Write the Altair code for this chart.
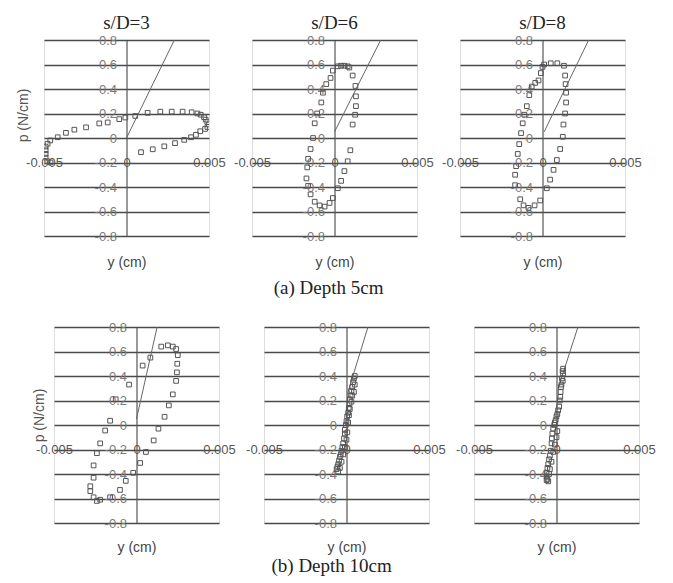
import altair as alt
import pandas as pd

# ---------------- data ----------------
col_titles = ["s/D=3", "s/D=6", "s/D=8"]
row_titles = ["(a) Depth  5cm", "(b) Depth  10cm"]

x_ticks = [-0.005, 0, 0.005]
x_tick_labels = ["-0.005", "0", "0.005"]
y_ticks = [0.8, 0.6, 0.4, 0.2, 0, -0.2, -0.4, -0.6, -0.8]
y_tick_labels = ["0.8", "0.6", "0.4", "0.2", "0", "-0.2", "-0.4", "-0.6", "-0.8"]

# depth 5cm, s/D=3
a3_y = [-0.00007, 0.00053, 0.00128, 0.00205, 0.00274, 0.0034, 0.00395, 0.0043, 0.0045, 0.0047,
        0.0048, 0.0049, 0.005, 0.0049, 0.00476, 0.00447, 0.00421, 0.00391, 0.0035, 0.00294,
        0.00229, 0.00159, 0.00088, -0.00044, -0.00114, -0.00165, -0.00245, -0.00316, -0.00367,
        -0.00417, -0.00462, -0.00478, -0.0049, -0.0049, -0.0049, -0.0049, -0.0048, -0.0046]
a3_p = [0.167, 0.18, 0.205, 0.215, 0.215, 0.215, 0.21, 0.2, 0.19, 0.17,
        0.15, 0.13, 0.11, 0.09, 0.074, 0.055, 0.026, 0.006, -0.015, -0.042,
        -0.068, -0.092, -0.116, 0.154, 0.127, 0.119, 0.087, 0.068, 0.042,
        0.006, -0.02, -0.047, -0.07, -0.1, -0.13, -0.16, -0.19, -0.2]
a3_line_y = [0.0, 0.0029]
a3_line_p = [0.0, 0.8]

# depth 5cm, s/D=6
a6_y = [0.0002, 0.0004, 0.0006, 0.0008, 0.0009, 0.0011, 0.00127, 0.0013, 0.0013, 0.00125,
        0.0011, 0.00096, 0.0008, 0.0006, 0.0004, 0.0002, -0.0001, -0.0003, -0.0006, -0.0009,
        -0.0012, -0.00145, -0.0016, -0.0017, -0.00165, -0.0016, -0.00145, -0.0013, -0.0012,
        -0.00105, -0.0008, -0.0007, -0.0005, -0.00024, -0.0001]
a6_p = [0.585, 0.59, 0.59, 0.585, 0.575, 0.51, 0.425, 0.34, 0.26, 0.19,
        0.11, -0.10, -0.19, -0.27, -0.35, -0.41, -0.49, -0.53, -0.56, -0.55,
        -0.52, -0.46, -0.39, -0.33, -0.24, -0.17, -0.09, 0.0, 0.12,
        0.2, 0.29, 0.37, 0.44, 0.49, 0.55]
a6_line_y = [0.0, 0.0028]
a6_line_p = [0.05, 0.8]

# depth 5cm, s/D=8
a8_y = [0.0001, 0.0005, 0.0009, 0.0013, 0.00137, 0.0014, 0.00143, 0.00143, 0.00137, 0.00127,
        0.00123, 0.00107, 0.00087, 0.00067, 0.00046, 0.00026, -0.00014, -0.00048, -0.00085,
        -0.00115, -0.00135, -0.00166, -0.00166, -0.0016, -0.0015, -0.00141, -0.0013, -0.0012,
        -0.0011, -0.00095, -0.0008, -0.00065, -0.00044, -0.00024, -0.0001, 0.0]
a8_p = [0.6, 0.61, 0.61, 0.59, 0.51, 0.44, 0.37, 0.29, 0.2, 0.11,
        0.01, -0.09, -0.18, -0.26, -0.34, -0.41, -0.51, -0.55, -0.57,
        -0.55, -0.5, -0.385, -0.3, -0.23, -0.13, -0.05, 0.04, 0.12,
        0.19, 0.26, 0.35, 0.42, 0.45, 0.47, 0.53, 0.58]
a8_line_y = [0.0001, 0.0028]
a8_line_p = [0.05, 0.8]

# depth 10cm, s/D=3
b3_y = [0.00037, 0.00084, 0.0015, 0.0019, 0.0022, 0.0024, 0.0025, 0.00247, 0.00245, 0.0024,
        0.0022, 0.00196, 0.0017, 0.00133, 0.00104, 0.00057, 0.00022, -0.0002, -0.00065,
        -0.001, -0.0016, -0.0022, -0.0024, -0.0026, -0.0028, -0.0028, -0.0026, -0.0026,
        -0.0024, -0.0022, -0.0019, -0.0016, -0.00126, -0.00045]
b3_p = [0.485, 0.55, 0.64, 0.65, 0.64, 0.62, 0.57, 0.5, 0.43, 0.36,
        0.25, 0.16, 0.067, -0.03, -0.126, -0.22, -0.31, -0.39, -0.456,
        -0.53, -0.59, -0.61, -0.62, -0.59, -0.54, -0.5, -0.43, -0.33,
        -0.23, -0.15, -0.045, 0.035, 0.21, 0.33]
b3_line_y = [0.0, 0.00125]
b3_line_p = [0.05, 0.8]

# depth 10cm, s/D=6
b6_y = [0.0005, 0.00045, 0.0004, 0.0005, 0.00035, 0.0003, 0.00045, 0.00025, 0.0002, 0.00018,
        0.00014, 0.0001, 0.00004, 0.0, -0.00004, -0.0001, -0.0001, -0.00015, -0.0002, -0.00025,
        -0.0003, -0.00035, -0.0004, -0.00045, -0.0005, -0.00055, -0.0006, -0.0005, -0.0004,
        -0.0003, -0.0002, -0.0001, 0.0, 0.00005, 0.0001, 0.00015, 0.0002, 0.0003, 0.00035]
b6_p = [0.40, 0.38, 0.35, 0.33, 0.31, 0.28, 0.27, 0.24, 0.21, 0.17,
        0.14, 0.1, 0.07, 0.03, 0.0, -0.04, -0.07, -0.11, -0.15, -0.18,
        -0.21, -0.24, -0.26, -0.29, -0.32, -0.34, -0.36, -0.38, -0.35,
        -0.3, -0.24, -0.18, -0.12, -0.06, 0.02, 0.08, 0.13, 0.19, 0.24]
b6_line_y = [0.00005, 0.0013]
b6_line_p = [0.25, 0.8]

# depth 10cm, s/D=8
b8_y = [0.0004, 0.00037, 0.0004, 0.00033, 0.00038, 0.0003, 0.00027, 0.00025, 0.00023, 0.0002,
        0.00016, 0.0001, 0.00005, 0.0, -0.00005, -0.0001, -0.00014, -0.0002, -0.00025, -0.00028,
        -0.0003, -0.00035, -0.0004, -0.00045, -0.0005, -0.00055, -0.0006, -0.0006, -0.00055,
        -0.0005, -0.0006, -0.00045, -0.0004, -0.0003, -0.0002, -0.0001, 0.0, 0.00005]
b8_p = [0.46, 0.44, 0.42, 0.38, 0.36, 0.33, 0.31, 0.27, 0.23, 0.2,
        0.15, 0.12, 0.09, 0.07, 0.04, 0.02, 0.0, -0.03, -0.07, -0.11,
        -0.15, -0.21, -0.25, -0.28, -0.32, -0.35, -0.39, -0.42, -0.44,
        -0.46, -0.45, -0.4, -0.36, -0.3, -0.22, -0.16, -0.1, -0.05]
b8_line_y = [0.0001, 0.0013]
b8_line_p = [0.3, 0.8]

# ---------------- styling ----------------
W, H = 165, 196
SANS = "Liberation Sans"
SERIF = "Liberation Serif"


def label_expr(values, labels):
    expr = "''"
    for v, l in reversed(list(zip(values, labels))):
        expr = f"abs(datum.value - ({v})) < 1e-9 ? '{l}' : ({expr})"
    return expr


def panel(py, pp, ly, lp, title=None, ytitle=False, ytx=18, yty=75, xty=26):
    pts = pd.DataFrame({"y": py, "p": pp})
    ln = pd.DataFrame({"y": ly, "p": lp})
    xsc = alt.Scale(domain=[-0.005, 0.005], nice=False, zero=False)
    ysc = alt.Scale(domain=[-0.8, 0.8], nice=False, zero=False)
    xax = alt.Axis(values=x_ticks, labelExpr=label_expr(x_ticks, x_tick_labels),
                   grid=False, domain=False, ticks=False, tickSize=0,
                   offset=-0.375 * H, labelBaseline="middle", labelPadding=0,
                   labelFlush=False, labelOverlap=False,
                   labelFont=SANS, labelFontSize=13, labelColor="#555",
                   title="y (cm)", titleY=0.375 * H + xty, titleBaseline="middle",
                   titleFont=SANS, titleFontSize=14, titleFontWeight="normal", titleColor="#444")
    yargs = dict(values=y_ticks, labelExpr=label_expr(y_ticks, y_tick_labels),
                 grid=True, gridColor="#4a4a4a", gridWidth=1.5,
                 domain=True, domainColor="#555", domainWidth=1.2,
                 ticks=False, tickSize=0, offset=-W / 2, labelPadding=10,
                 labelOverlap=False, labelFont=SANS, labelFontSize=13, labelColor="#7a7a7a")
    if ytitle:
        yargs.update(title="p (N/cm)", titleX=-W / 2 - ytx, titleY=yty, titleBaseline="middle",
                     titleFont=SANS, titleFontSize=14, titleFontWeight="normal", titleColor="#555")
    else:
        yargs.update(title=None)
    yax = alt.Axis(**yargs)
    xe = alt.X("y:Q", scale=xsc, axis=xax)
    ye = alt.Y("p:Q", scale=ysc, axis=yax)
    line = alt.Chart(ln).mark_line(color="#666", strokeWidth=1, clip=True).encode(x=xe, y=ye)
    dots = alt.Chart(pts).mark_point(shape="square", filled=False, size=22, strokeWidth=1,
                                     color="#555", opacity=1, clip=True).encode(x=xe, y=ye)
    props = dict(width=W, height=H)
    if title:
        props["title"] = alt.TitleParams(title, font=SERIF, fontSize=19, fontWeight="normal",
                                         color="#222", offset=1)
    return alt.layer(line, dots).properties(**props)


row1 = alt.hconcat(
    panel(a3_y, a3_p, a3_line_y, a3_line_p, col_titles[0], ytitle=True, ytx=21, yty=75),
    panel(a6_y, a6_p, a6_line_y, a6_line_p, col_titles[1]),
    panel(a8_y, a8_p, a8_line_y, a8_line_p, col_titles[2]),
    spacing=7,
    title=alt.TitleParams(row_titles[0], orient="bottom", anchor="middle", font=SERIF,
                          fontSize=19, fontWeight="normal", color="#222", offset=9),
)

inner2 = alt.hconcat(
    panel(b3_y, b3_p, b3_line_y, b3_line_p, ytitle=True, ytx=15, yty=88, xty=24),
    panel(b6_y, b6_p, b6_line_y, b6_line_p, xty=24),
    panel(b8_y, b8_p, b8_line_y, b8_line_p, xty=24),
    spacing=9,
)
# zero-content spacer so that the lower row can sit a little to the right of the upper row
spacer = alt.Chart(pd.DataFrame({"v": []})).mark_point().properties(
    width=1, height=1, view=alt.ViewBackground(strokeOpacity=0)
)
row2 = alt.hconcat(
    spacer, inner2, spacing=-14,
    title=alt.TitleParams(row_titles[1], orient="bottom", anchor="middle", font=SERIF,
                          fontSize=19, fontWeight="normal", color="#222", offset=2, dx=-12),
)

chart = alt.vconcat(row1, row2, spacing=22).properties(
    padding={"left": 7, "top": 5, "right": 5, "bottom": 5}
).configure_view(stroke="#9a9a9a", strokeWidth=1).configure(background="white")

chart.save("out.html", embed_options={"renderer": "svg", "actions": False})
